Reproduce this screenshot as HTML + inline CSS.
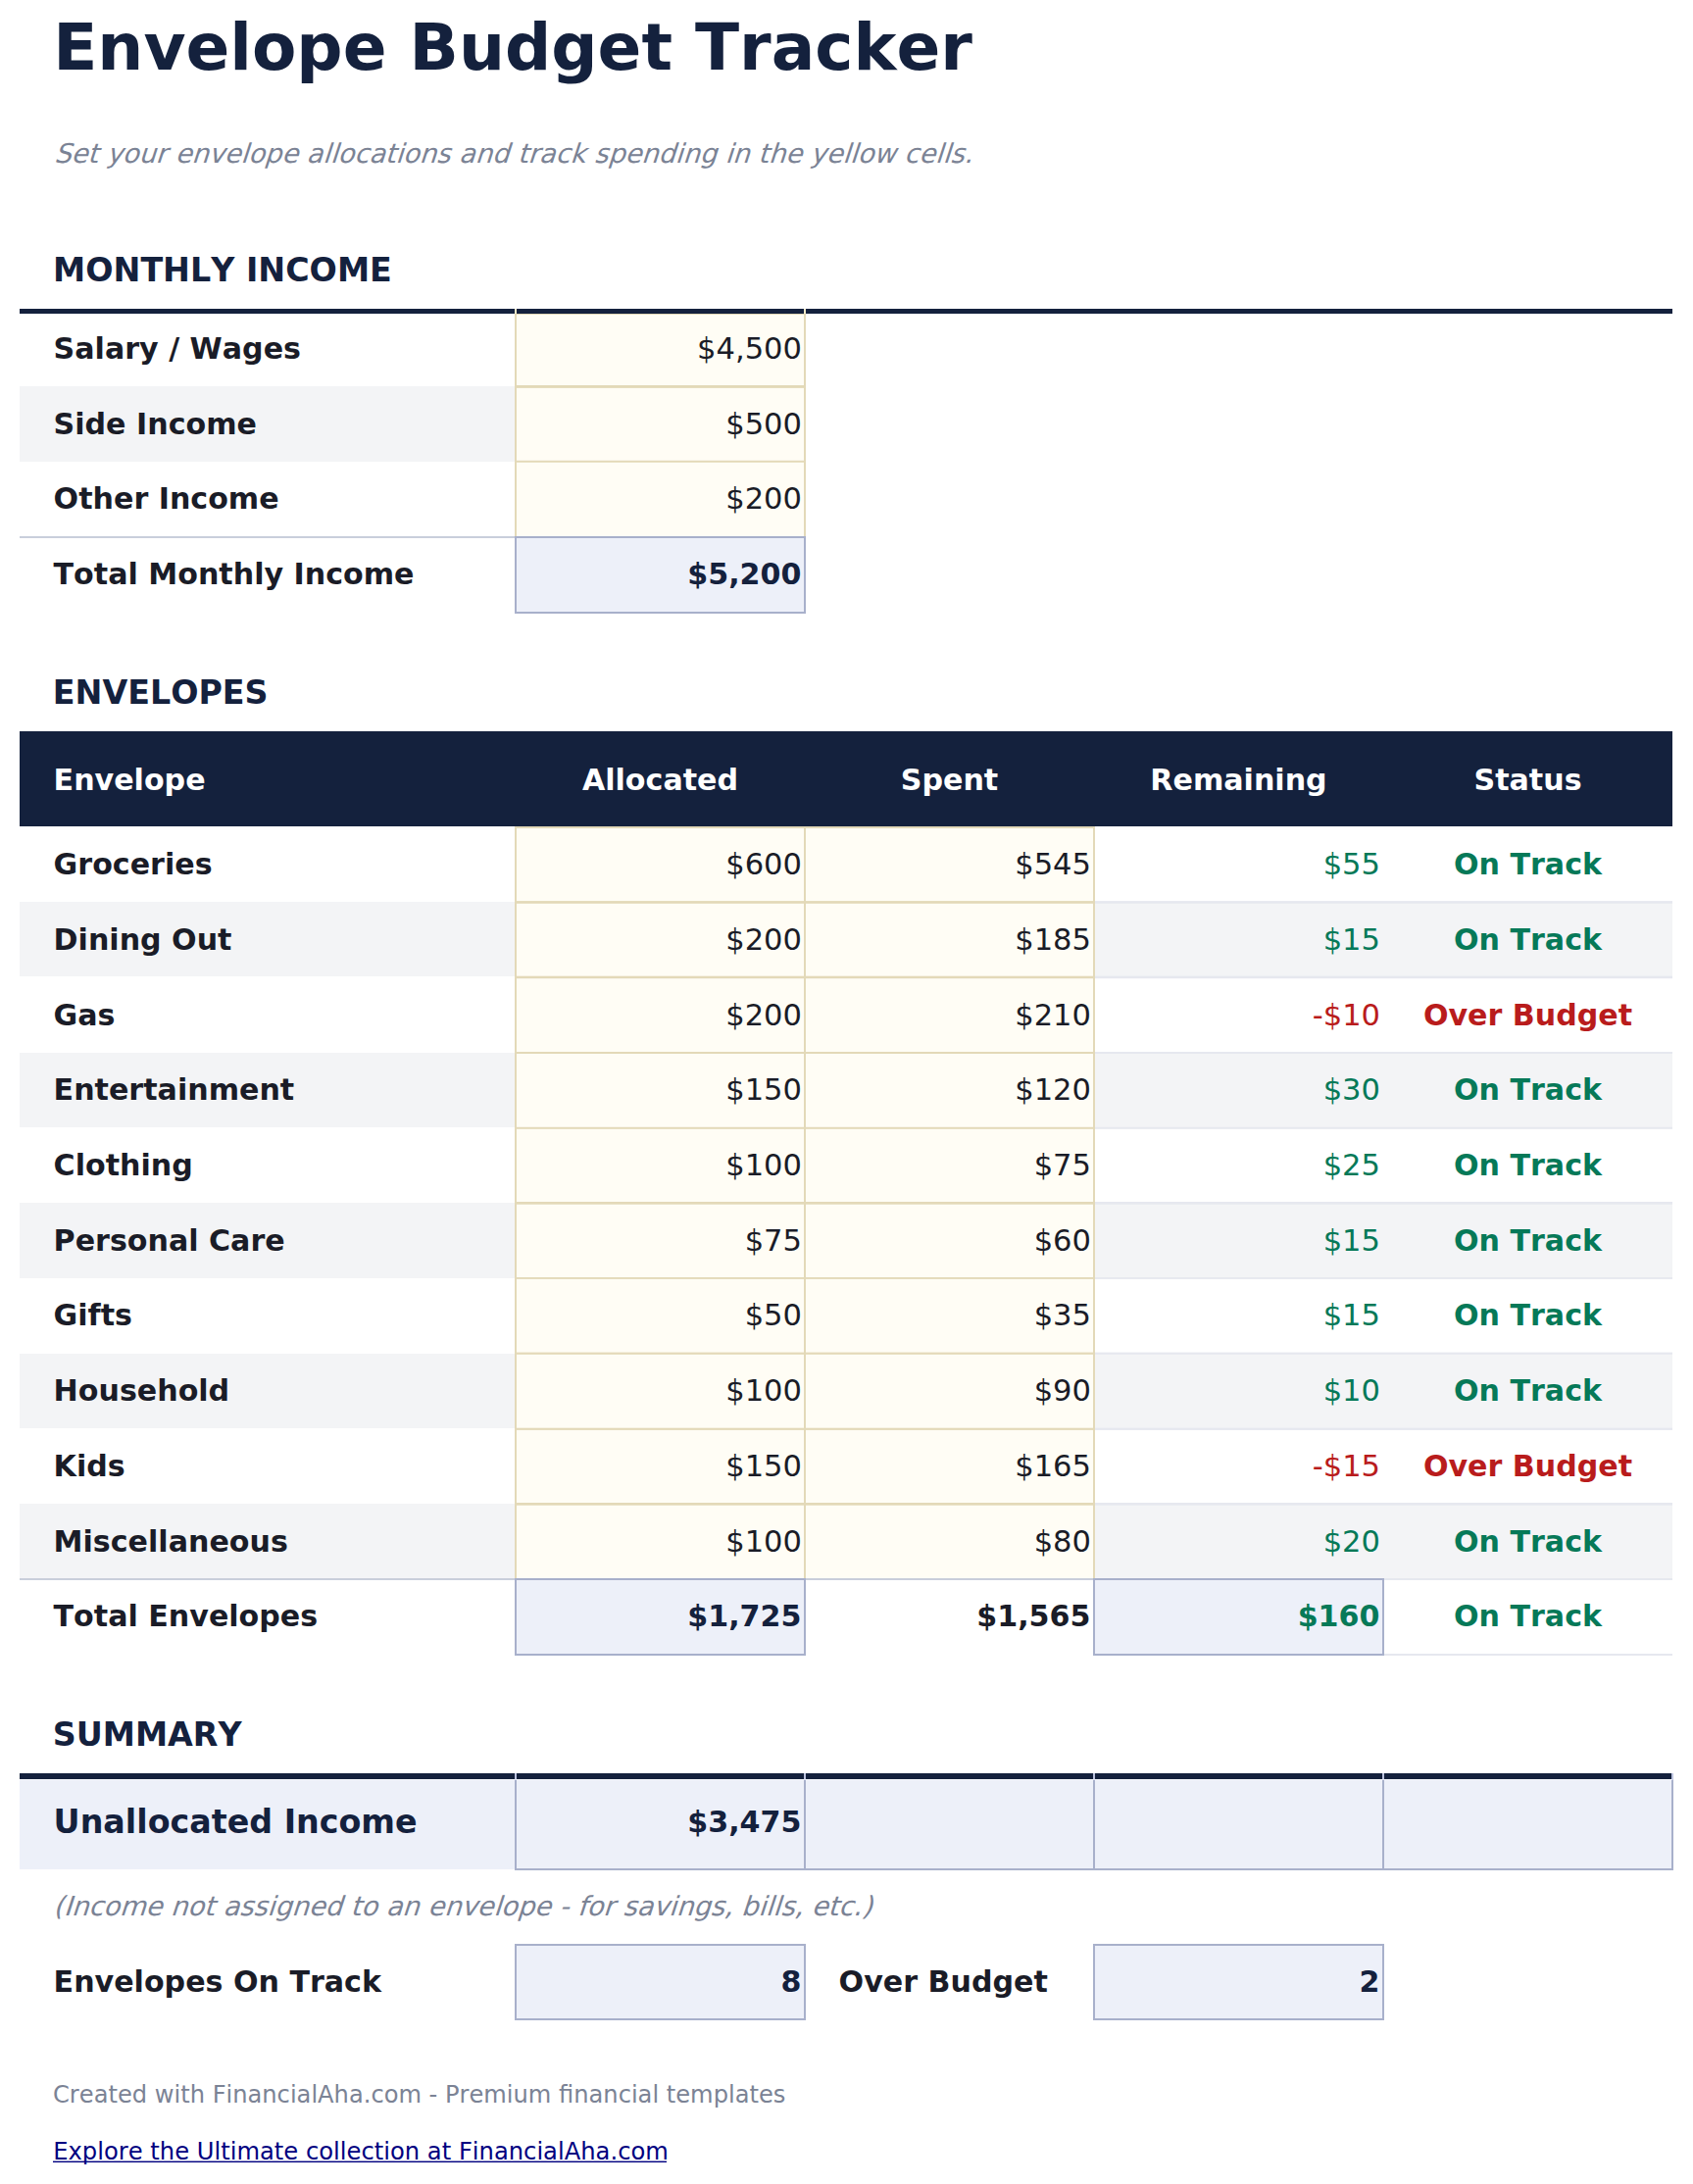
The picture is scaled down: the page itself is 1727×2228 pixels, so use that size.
<!DOCTYPE html>
<html lang="en"><head><meta charset="utf-8"><title>Envelope Budget Tracker</title>
<style>
html,body{margin:0;padding:0;background:#fff;}
body{width:1727px;height:2228px;position:relative;overflow:hidden;font-family:"DejaVu Sans","Liberation Sans",sans-serif;font-size:30.55px;color:#1a1c27;font-kerning:none;}
.a{position:absolute;box-sizing:border-box;}
.t{white-space:nowrap;line-height:40px;height:40px;}
.b{font-weight:bold;}
.i{font-style:italic;}
.r{text-align:right;}
.c{text-align:center;}
.u{text-decoration:underline;text-decoration-thickness:2px;text-underline-offset:2px;}
</style></head><body>
<div class="a t b" style="left:54.2px;top:28.63px;width:1400px;font-size:66.1px;color:#14213d">Envelope Budget Tracker</div>
<div class="a t" style="left:54.7px;top:137.06px;width:1400px;font-size:27.28px;color:#7b8395;transform:skewX(-18deg);transform-origin:0 28.94px">Set your envelope allocations and track spending in the yellow cells.</div>
<div class="a t b" style="left:54.1px;top:255.98px;width:1400px;font-size:33.3px;color:#14213d">MONTHLY INCOME</div>
<div class="a" style="left:525px;top:316px;width:297px;height:232px;background:#e3d9b8"></div>
<div class="a" style="left:527px;top:321px;width:293px;height:227px;background:#fffdf5"></div>
<div class="a" style="left:20px;top:394px;width:505px;height:77px;background:#f3f4f6"></div>
<div class="a" style="left:527px;top:393px;width:293px;height:1px;background:rgba(227,217,184,1.00)"></div>
<div class="a" style="left:527px;top:394px;width:293px;height:1px;background:rgba(227,217,184,1.00)"></div>
<div class="a" style="left:527px;top:395px;width:293px;height:1px;background:rgba(227,217,184,0.90)"></div>
<div class="a" style="left:527px;top:469px;width:293px;height:1px;background:rgba(227,217,184,0.20)"></div>
<div class="a" style="left:527px;top:470px;width:293px;height:1px;background:rgba(227,217,184,1.00)"></div>
<div class="a" style="left:527px;top:471px;width:293px;height:1px;background:rgba(227,217,184,0.80)"></div>
<div class="a t b" style="left:54.6px;top:336.09px;width:600px;font-size:30.1px;">Salary / Wages</div>
<div class="a t  r" style="left:526px;top:335.93px;width:292px;font-size:30.55px;">$4,500</div>
<div class="a t b" style="left:54.6px;top:413.09px;width:600px;font-size:30.1px;">Side Income</div>
<div class="a t  r" style="left:526px;top:412.93px;width:292px;font-size:30.55px;">$500</div>
<div class="a t b" style="left:54.6px;top:489.09px;width:600px;font-size:30.1px;">Other Income</div>
<div class="a t  r" style="left:526px;top:488.93px;width:292px;font-size:30.55px;">$200</div>
<div class="a" style="left:20px;top:315px;width:1686px;height:5px;background:#14213d"></div>
<div class="a" style="left:525px;top:315px;width:2px;height:6px;background:#f7ecc9"></div>
<div class="a" style="left:525px;top:320px;width:2px;height:1px;background:#e3d9b8"></div>
<div class="a" style="left:820px;top:315px;width:2px;height:6px;background:#f7ecc9"></div>
<div class="a" style="left:820px;top:320px;width:2px;height:1px;background:#e3d9b8"></div>
<div class="a" style="left:20px;top:547px;width:506px;height:2px;background:#c9cedb"></div>
<div class="a" style="left:525px;top:547px;width:297px;height:79px;background:#a8b0cb;"></div>
<div class="a" style="left:527px;top:549px;width:293px;height:75px;background:#edf0f9;"></div>
<div class="a t b" style="left:54.6px;top:566.09px;width:600px;font-size:30.1px;">Total Monthly Income</div>
<div class="a t b r" style="left:526px;top:566.09px;width:291.4px;font-size:30.1px;color:#14213d">$5,200</div>
<div class="a t b" style="left:53.8px;top:686.98px;width:1400px;font-size:33.3px;color:#14213d">ENVELOPES</div>
<div class="a" style="left:20px;top:746px;width:1686px;height:97px;background:#14213d"></div>
<div class="a t b" style="left:54.6px;top:776.09px;width:600px;font-size:30.1px;color:#fff">Envelope</div>
<div class="a t b c" style="left:526px;top:776.09px;width:295px;font-size:30.1px;color:#fff">Allocated</div>
<div class="a t b c" style="left:821px;top:776.09px;width:295px;font-size:30.1px;color:#fff">Spent</div>
<div class="a t b c" style="left:1116px;top:776.09px;width:295px;font-size:30.1px;color:#fff">Remaining</div>
<div class="a t b c" style="left:1411px;top:776.09px;width:295px;font-size:30.1px;color:#fff">Status</div>
<div class="a" style="left:20px;top:920px;width:1686px;height:76px;background:#f3f4f6"></div>
<div class="a" style="left:20px;top:1074px;width:1686px;height:76px;background:#f3f4f6"></div>
<div class="a" style="left:20px;top:1227px;width:1686px;height:77px;background:#f3f4f6"></div>
<div class="a" style="left:20px;top:1381px;width:1686px;height:76px;background:#f3f4f6"></div>
<div class="a" style="left:20px;top:1534px;width:1686px;height:76px;background:#f3f4f6"></div>
<div class="a" style="left:525px;top:843px;width:592px;height:767px;background:#e3d9b8"></div>
<div class="a" style="left:527px;top:845px;width:293px;height:765px;background:#fffdf5"></div>
<div class="a" style="left:822px;top:845px;width:293px;height:765px;background:#fffdf5"></div>
<div class="a t b" style="left:54.6px;top:862.09px;width:600px;font-size:30.1px;">Groceries</div>
<div class="a t  r" style="left:526px;top:861.93px;width:292px;font-size:30.55px;">$600</div>
<div class="a t  r" style="left:821px;top:861.93px;width:292px;font-size:30.55px;">$545</div>
<div class="a t  r" style="left:1116px;top:861.93px;width:292px;font-size:30.55px;color:#067958">$55</div>
<div class="a t b c" style="left:1411px;top:862.09px;width:295px;font-size:30.1px;color:#067958">On Track</div>
<div class="a" style="left:527px;top:919px;width:293px;height:1px;background:rgba(227,217,184,0.90)"></div>
<div class="a" style="left:527px;top:920px;width:293px;height:1px;background:rgba(227,217,184,1.00)"></div>
<div class="a" style="left:527px;top:921px;width:293px;height:1px;background:rgba(227,217,184,0.80)"></div>
<div class="a" style="left:822px;top:919px;width:293px;height:1px;background:rgba(227,217,184,0.90)"></div>
<div class="a" style="left:822px;top:920px;width:293px;height:1px;background:rgba(227,217,184,1.00)"></div>
<div class="a" style="left:822px;top:921px;width:293px;height:1px;background:rgba(227,217,184,0.80)"></div>
<div class="a" style="left:1117px;top:919px;width:589px;height:1px;background:rgba(230,232,239,0.90)"></div>
<div class="a" style="left:1117px;top:920px;width:589px;height:1px;background:rgba(230,232,239,1.00)"></div>
<div class="a" style="left:1117px;top:921px;width:589px;height:1px;background:rgba(230,232,239,0.80)"></div>
<div class="a t b" style="left:54.6px;top:939.09px;width:600px;font-size:30.1px;">Dining Out</div>
<div class="a t  r" style="left:526px;top:938.93px;width:292px;font-size:30.55px;">$200</div>
<div class="a t  r" style="left:821px;top:938.93px;width:292px;font-size:30.55px;">$185</div>
<div class="a t  r" style="left:1116px;top:938.93px;width:292px;font-size:30.55px;color:#067958">$15</div>
<div class="a t b c" style="left:1411px;top:939.09px;width:295px;font-size:30.1px;color:#067958">On Track</div>
<div class="a" style="left:527px;top:995px;width:293px;height:1px;background:rgba(227,217,184,0.30)"></div>
<div class="a" style="left:527px;top:996px;width:293px;height:1px;background:rgba(227,217,184,1.00)"></div>
<div class="a" style="left:527px;top:997px;width:293px;height:1px;background:rgba(227,217,184,1.00)"></div>
<div class="a" style="left:527px;top:998px;width:293px;height:1px;background:rgba(227,217,184,0.20)"></div>
<div class="a" style="left:822px;top:995px;width:293px;height:1px;background:rgba(227,217,184,0.30)"></div>
<div class="a" style="left:822px;top:996px;width:293px;height:1px;background:rgba(227,217,184,1.00)"></div>
<div class="a" style="left:822px;top:997px;width:293px;height:1px;background:rgba(227,217,184,1.00)"></div>
<div class="a" style="left:822px;top:998px;width:293px;height:1px;background:rgba(227,217,184,0.20)"></div>
<div class="a" style="left:1117px;top:995px;width:589px;height:1px;background:rgba(230,232,239,0.30)"></div>
<div class="a" style="left:1117px;top:996px;width:589px;height:1px;background:rgba(230,232,239,1.00)"></div>
<div class="a" style="left:1117px;top:997px;width:589px;height:1px;background:rgba(230,232,239,1.00)"></div>
<div class="a" style="left:1117px;top:998px;width:589px;height:1px;background:rgba(230,232,239,0.20)"></div>
<div class="a t b" style="left:54.6px;top:1016.09px;width:600px;font-size:30.1px;">Gas</div>
<div class="a t  r" style="left:526px;top:1015.93px;width:292px;font-size:30.55px;">$200</div>
<div class="a t  r" style="left:821px;top:1015.93px;width:292px;font-size:30.55px;">$210</div>
<div class="a t  r" style="left:1116px;top:1015.93px;width:292px;font-size:30.55px;color:#b91c1c">-$10</div>
<div class="a t b c" style="left:1411px;top:1016.09px;width:295px;font-size:30.1px;color:#b91c1c">Over Budget</div>
<div class="a" style="left:527px;top:1073px;width:293px;height:1px;background:rgba(227,217,184,1.00)"></div>
<div class="a" style="left:527px;top:1074px;width:293px;height:1px;background:rgba(227,217,184,1.00)"></div>
<div class="a" style="left:822px;top:1073px;width:293px;height:1px;background:rgba(227,217,184,1.00)"></div>
<div class="a" style="left:822px;top:1074px;width:293px;height:1px;background:rgba(227,217,184,1.00)"></div>
<div class="a" style="left:1117px;top:1073px;width:589px;height:1px;background:rgba(230,232,239,1.00)"></div>
<div class="a" style="left:1117px;top:1074px;width:589px;height:1px;background:rgba(230,232,239,1.00)"></div>
<div class="a t b" style="left:54.6px;top:1092.09px;width:600px;font-size:30.1px;">Entertainment</div>
<div class="a t  r" style="left:526px;top:1091.93px;width:292px;font-size:30.55px;">$150</div>
<div class="a t  r" style="left:821px;top:1091.93px;width:292px;font-size:30.55px;">$120</div>
<div class="a t  r" style="left:1116px;top:1091.93px;width:292px;font-size:30.55px;color:#067958">$30</div>
<div class="a t b c" style="left:1411px;top:1092.09px;width:295px;font-size:30.1px;color:#067958">On Track</div>
<div class="a" style="left:527px;top:1149px;width:293px;height:1px;background:rgba(227,217,184,0.20)"></div>
<div class="a" style="left:527px;top:1150px;width:293px;height:1px;background:rgba(227,217,184,1.00)"></div>
<div class="a" style="left:527px;top:1151px;width:293px;height:1px;background:rgba(227,217,184,0.80)"></div>
<div class="a" style="left:822px;top:1149px;width:293px;height:1px;background:rgba(227,217,184,0.20)"></div>
<div class="a" style="left:822px;top:1150px;width:293px;height:1px;background:rgba(227,217,184,1.00)"></div>
<div class="a" style="left:822px;top:1151px;width:293px;height:1px;background:rgba(227,217,184,0.80)"></div>
<div class="a" style="left:1117px;top:1149px;width:589px;height:1px;background:rgba(230,232,239,0.20)"></div>
<div class="a" style="left:1117px;top:1150px;width:589px;height:1px;background:rgba(230,232,239,1.00)"></div>
<div class="a" style="left:1117px;top:1151px;width:589px;height:1px;background:rgba(230,232,239,0.80)"></div>
<div class="a t b" style="left:54.6px;top:1169.09px;width:600px;font-size:30.1px;">Clothing</div>
<div class="a t  r" style="left:526px;top:1168.93px;width:292px;font-size:30.55px;">$100</div>
<div class="a t  r" style="left:821px;top:1168.93px;width:292px;font-size:30.55px;">$75</div>
<div class="a t  r" style="left:1116px;top:1168.93px;width:292px;font-size:30.55px;color:#067958">$25</div>
<div class="a t b c" style="left:1411px;top:1169.09px;width:295px;font-size:30.1px;color:#067958">On Track</div>
<div class="a" style="left:527px;top:1226px;width:293px;height:1px;background:rgba(227,217,184,1.00)"></div>
<div class="a" style="left:527px;top:1227px;width:293px;height:1px;background:rgba(227,217,184,1.00)"></div>
<div class="a" style="left:527px;top:1228px;width:293px;height:1px;background:rgba(227,217,184,0.70)"></div>
<div class="a" style="left:822px;top:1226px;width:293px;height:1px;background:rgba(227,217,184,1.00)"></div>
<div class="a" style="left:822px;top:1227px;width:293px;height:1px;background:rgba(227,217,184,1.00)"></div>
<div class="a" style="left:822px;top:1228px;width:293px;height:1px;background:rgba(227,217,184,0.70)"></div>
<div class="a" style="left:1117px;top:1226px;width:589px;height:1px;background:rgba(230,232,239,1.00)"></div>
<div class="a" style="left:1117px;top:1227px;width:589px;height:1px;background:rgba(230,232,239,1.00)"></div>
<div class="a" style="left:1117px;top:1228px;width:589px;height:1px;background:rgba(230,232,239,0.70)"></div>
<div class="a t b" style="left:54.6px;top:1246.09px;width:600px;font-size:30.1px;">Personal Care</div>
<div class="a t  r" style="left:526px;top:1245.93px;width:292px;font-size:30.55px;">$75</div>
<div class="a t  r" style="left:821px;top:1245.93px;width:292px;font-size:30.55px;">$60</div>
<div class="a t  r" style="left:1116px;top:1245.93px;width:292px;font-size:30.55px;color:#067958">$15</div>
<div class="a t b c" style="left:1411px;top:1246.09px;width:295px;font-size:30.1px;color:#067958">On Track</div>
<div class="a" style="left:527px;top:1303px;width:293px;height:1px;background:rgba(227,217,184,1.00)"></div>
<div class="a" style="left:527px;top:1304px;width:293px;height:1px;background:rgba(227,217,184,0.90)"></div>
<div class="a" style="left:822px;top:1303px;width:293px;height:1px;background:rgba(227,217,184,1.00)"></div>
<div class="a" style="left:822px;top:1304px;width:293px;height:1px;background:rgba(227,217,184,0.90)"></div>
<div class="a" style="left:1117px;top:1303px;width:589px;height:1px;background:rgba(230,232,239,1.00)"></div>
<div class="a" style="left:1117px;top:1304px;width:589px;height:1px;background:rgba(230,232,239,0.90)"></div>
<div class="a t b" style="left:54.6px;top:1322.09px;width:600px;font-size:30.1px;">Gifts</div>
<div class="a t  r" style="left:526px;top:1321.93px;width:292px;font-size:30.55px;">$50</div>
<div class="a t  r" style="left:821px;top:1321.93px;width:292px;font-size:30.55px;">$35</div>
<div class="a t  r" style="left:1116px;top:1321.93px;width:292px;font-size:30.55px;color:#067958">$15</div>
<div class="a t b c" style="left:1411px;top:1322.09px;width:295px;font-size:30.1px;color:#067958">On Track</div>
<div class="a" style="left:527px;top:1379px;width:293px;height:1px;background:rgba(227,217,184,0.40)"></div>
<div class="a" style="left:527px;top:1380px;width:293px;height:1px;background:rgba(227,217,184,1.00)"></div>
<div class="a" style="left:527px;top:1381px;width:293px;height:1px;background:rgba(227,217,184,0.80)"></div>
<div class="a" style="left:822px;top:1379px;width:293px;height:1px;background:rgba(227,217,184,0.40)"></div>
<div class="a" style="left:822px;top:1380px;width:293px;height:1px;background:rgba(227,217,184,1.00)"></div>
<div class="a" style="left:822px;top:1381px;width:293px;height:1px;background:rgba(227,217,184,0.80)"></div>
<div class="a" style="left:1117px;top:1379px;width:589px;height:1px;background:rgba(230,232,239,0.40)"></div>
<div class="a" style="left:1117px;top:1380px;width:589px;height:1px;background:rgba(230,232,239,1.00)"></div>
<div class="a" style="left:1117px;top:1381px;width:589px;height:1px;background:rgba(230,232,239,0.80)"></div>
<div class="a t b" style="left:54.6px;top:1399.09px;width:600px;font-size:30.1px;">Household</div>
<div class="a t  r" style="left:526px;top:1398.93px;width:292px;font-size:30.55px;">$100</div>
<div class="a t  r" style="left:821px;top:1398.93px;width:292px;font-size:30.55px;">$90</div>
<div class="a t  r" style="left:1116px;top:1398.93px;width:292px;font-size:30.55px;color:#067958">$10</div>
<div class="a t b c" style="left:1411px;top:1399.09px;width:295px;font-size:30.1px;color:#067958">On Track</div>
<div class="a" style="left:527px;top:1456px;width:293px;height:1px;background:rgba(227,217,184,0.30)"></div>
<div class="a" style="left:527px;top:1457px;width:293px;height:1px;background:rgba(227,217,184,1.00)"></div>
<div class="a" style="left:527px;top:1458px;width:293px;height:1px;background:rgba(227,217,184,0.90)"></div>
<div class="a" style="left:822px;top:1456px;width:293px;height:1px;background:rgba(227,217,184,0.30)"></div>
<div class="a" style="left:822px;top:1457px;width:293px;height:1px;background:rgba(227,217,184,1.00)"></div>
<div class="a" style="left:822px;top:1458px;width:293px;height:1px;background:rgba(227,217,184,0.90)"></div>
<div class="a" style="left:1117px;top:1456px;width:589px;height:1px;background:rgba(230,232,239,0.30)"></div>
<div class="a" style="left:1117px;top:1457px;width:589px;height:1px;background:rgba(230,232,239,1.00)"></div>
<div class="a" style="left:1117px;top:1458px;width:589px;height:1px;background:rgba(230,232,239,0.90)"></div>
<div class="a t b" style="left:54.6px;top:1476.09px;width:600px;font-size:30.1px;">Kids</div>
<div class="a t  r" style="left:526px;top:1475.93px;width:292px;font-size:30.55px;">$150</div>
<div class="a t  r" style="left:821px;top:1475.93px;width:292px;font-size:30.55px;">$165</div>
<div class="a t  r" style="left:1116px;top:1475.93px;width:292px;font-size:30.55px;color:#b91c1c">-$15</div>
<div class="a t b c" style="left:1411px;top:1476.09px;width:295px;font-size:30.1px;color:#b91c1c">Over Budget</div>
<div class="a" style="left:527px;top:1533px;width:293px;height:1px;background:rgba(227,217,184,1.00)"></div>
<div class="a" style="left:527px;top:1534px;width:293px;height:1px;background:rgba(227,217,184,1.00)"></div>
<div class="a" style="left:527px;top:1535px;width:293px;height:1px;background:rgba(227,217,184,0.70)"></div>
<div class="a" style="left:822px;top:1533px;width:293px;height:1px;background:rgba(227,217,184,1.00)"></div>
<div class="a" style="left:822px;top:1534px;width:293px;height:1px;background:rgba(227,217,184,1.00)"></div>
<div class="a" style="left:822px;top:1535px;width:293px;height:1px;background:rgba(227,217,184,0.70)"></div>
<div class="a" style="left:1117px;top:1533px;width:589px;height:1px;background:rgba(230,232,239,1.00)"></div>
<div class="a" style="left:1117px;top:1534px;width:589px;height:1px;background:rgba(230,232,239,1.00)"></div>
<div class="a" style="left:1117px;top:1535px;width:589px;height:1px;background:rgba(230,232,239,0.70)"></div>
<div class="a t b" style="left:54.6px;top:1553.09px;width:600px;font-size:30.1px;">Miscellaneous</div>
<div class="a t  r" style="left:526px;top:1552.93px;width:292px;font-size:30.55px;">$100</div>
<div class="a t  r" style="left:821px;top:1552.93px;width:292px;font-size:30.55px;">$80</div>
<div class="a t  r" style="left:1116px;top:1552.93px;width:292px;font-size:30.55px;color:#067958">$20</div>
<div class="a t b c" style="left:1411px;top:1553.09px;width:295px;font-size:30.1px;color:#067958">On Track</div>
<div class="a" style="left:20px;top:1610.3px;width:1391px;height:1.7px;background:#c9cedb"></div>
<div class="a" style="left:1411px;top:1610.3px;width:295px;height:1.6px;background:#e6e8ef"></div>
<div class="a" style="left:1411px;top:1687px;width:295px;height:1.8px;background:#e6e8ef"></div>
<div class="a" style="left:525px;top:1610px;width:297px;height:78.8px;background:#a8b0cb;"></div>
<div class="a" style="left:527px;top:1612px;width:293px;height:74.8px;background:#edf0f9;"></div>
<div class="a" style="left:1115px;top:1610px;width:297px;height:78.8px;background:#a8b0cb;"></div>
<div class="a" style="left:1117px;top:1612px;width:293px;height:74.8px;background:#edf0f9;"></div>
<div class="a t b" style="left:54.6px;top:1629.09px;width:600px;font-size:30.1px;">Total Envelopes</div>
<div class="a t b r" style="left:526px;top:1629.09px;width:291.4px;font-size:30.1px;color:#14213d">$1,725</div>
<div class="a t b r" style="left:821px;top:1629.09px;width:291.4px;font-size:30.1px;">$1,565</div>
<div class="a t b r" style="left:1116px;top:1629.09px;width:291.4px;font-size:30.1px;color:#067958">$160</div>
<div class="a t b c" style="left:1411px;top:1629.09px;width:295px;font-size:30.1px;color:#067958">On Track</div>
<div class="a t b" style="left:53.8px;top:1749.98px;width:1400px;font-size:33.3px;color:#14213d">SUMMARY</div>
<div class="a" style="left:20px;top:1815px;width:506px;height:92px;background:#edf0f9"></div>
<div class="a" style="left:525px;top:1812px;width:297px;height:96px;background:#a8b0cb;"></div>
<div class="a" style="left:527px;top:1814px;width:293px;height:92px;background:#edf0f9;"></div>
<div class="a" style="left:820px;top:1812px;width:297px;height:96px;background:#a8b0cb;"></div>
<div class="a" style="left:822px;top:1814px;width:293px;height:92px;background:#edf0f9;"></div>
<div class="a" style="left:1115px;top:1812px;width:297px;height:96px;background:#a8b0cb;"></div>
<div class="a" style="left:1117px;top:1814px;width:293px;height:92px;background:#edf0f9;"></div>
<div class="a" style="left:1410px;top:1812px;width:297px;height:96px;background:#a8b0cb;"></div>
<div class="a" style="left:1412px;top:1814px;width:293px;height:92px;background:#edf0f9;"></div>
<div class="a" style="left:20px;top:1809px;width:1687px;height:6px;background:#14213d"></div>
<div class="a" style="left:525px;top:1809px;width:2px;height:6.5px;background:#bcc3df"></div>
<div class="a" style="left:820px;top:1809px;width:2px;height:6.5px;background:#bcc3df"></div>
<div class="a" style="left:1115px;top:1809px;width:2px;height:6.5px;background:#bcc3df"></div>
<div class="a" style="left:1410px;top:1809px;width:2px;height:6.5px;background:#bcc3df"></div>
<div class="a" style="left:1705px;top:1809px;width:2px;height:6.5px;background:#bcc3df"></div>
<div class="a" style="left:20px;top:1815px;width:1686px;height:1px;background:rgba(255,255,255,.55)"></div>
<div class="a t b" style="left:54.6px;top:1838.98px;width:600px;font-size:33.3px;color:#14213d">Unallocated Income</div>
<div class="a t b r" style="left:526px;top:1839.09px;width:291.4px;font-size:30.1px;color:#14213d">$3,475</div>
<div class="a t" style="left:53.9px;top:1925.05px;width:1400px;font-size:27.31px;color:#7b8395;transform:skewX(-18deg);transform-origin:0 28.95px">(Income not assigned to an envelope - for savings, bills, etc.)</div>
<div class="a" style="left:525px;top:1983.2px;width:297px;height:77.8px;background:#a8b0cb;"></div>
<div class="a" style="left:527px;top:1985.2px;width:293px;height:73.8px;background:#edf0f9;"></div>
<div class="a" style="left:1115px;top:1983.2px;width:297px;height:77.8px;background:#a8b0cb;"></div>
<div class="a" style="left:1117px;top:1985.2px;width:293px;height:73.8px;background:#edf0f9;"></div>
<div class="a t b" style="left:54.6px;top:2002.09px;width:600px;font-size:30.1px;">Envelopes On Track</div>
<div class="a t b r" style="left:526px;top:2002.09px;width:291.4px;font-size:30.1px;color:#14213d">8</div>
<div class="a t b" style="left:855.6px;top:2002.09px;width:600px;font-size:30.1px;">Over Budget</div>
<div class="a t b r" style="left:1116px;top:2002.09px;width:291.4px;font-size:30.1px;color:#14213d">2</div>
<div class="a t " style="left:54px;top:2117.14px;width:1400px;font-size:24.15px;color:#7b8395">Created with FinancialAha.com - Premium financial templates</div>
<div class="a t " style="left:54.2px;top:2175.12px;width:1400px;font-size:24.22px;color:#000080">Explore the Ultimate collection at FinancialAha.com</div>
<div class="a" style="left:54px;top:2204px;width:626px;height:1px;background:rgba(0,0,128,0.40)"></div>
<div class="a" style="left:54px;top:2205px;width:626px;height:1px;background:rgba(0,0,128,1.00)"></div>
</body></html>
